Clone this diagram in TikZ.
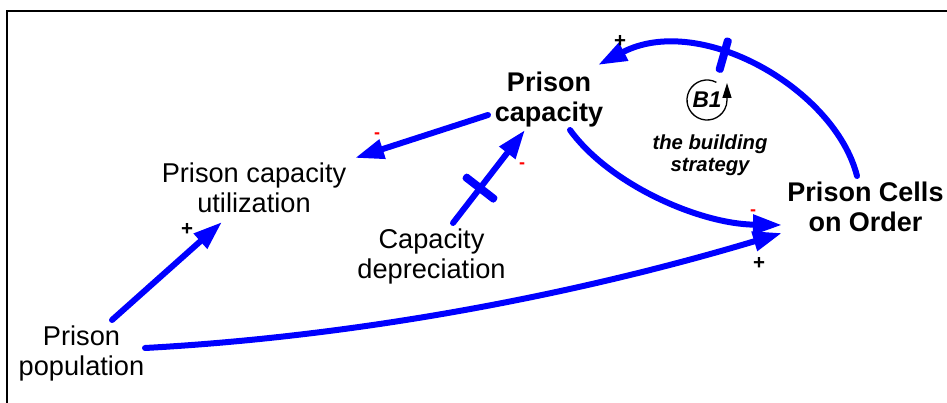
\documentclass[tikz,border=0pt]{standalone}
\usepackage{fontspec}
\setmainfont{Liberation Sans}
\usetikzlibrary{arrows.meta}
\definecolor{cldblue}{RGB}{0,0,255}
\definecolor{cldred}{RGB}{255,0,0}
\begin{document}
\begin{tikzpicture}[x=1pt,y=-1pt,
  var/.style={inner sep=0pt, align=center, font=\fontsize{27.2}{30}\selectfont},
  bvar/.style={inner sep=0pt, align=center, font=\fontsize{27}{30}\selectfont\bfseries},
  link/.style={draw=cldblue, line width=6pt, line cap=round, -{Triangle[length=29pt,width=19pt]}},
  delaymark/.style={fill=cldblue, sloped, minimum width=8pt, minimum height=#1, inner sep=0pt, rounded corners=3pt},
  pol/.style={inner sep=0pt, font=\fontsize{20.5}{20.5}\selectfont\bfseries},
  neg/.style={inner sep=0pt, text=cldred, font=\fontsize{18}{18}\selectfont\bfseries},
  loopline/.style={draw=black, line width=1.3pt, -{Triangle[length=15pt,width=9pt]}},
]
\useasboundingbox (0,0) rectangle (947,403);
\draw[line width=2pt] (7,403) -- (7,11) -- (947,11);

\node[bvar] (cap) at (549,100) {Prison\\capacity};
\node[var] (util) at (254,188) {Prison capacity\\utilization};
\node[var] (dep) at (431.5,256) {Capacity\\depreciation};
\node[bvar] (cells) at (865.5,207) {Prison Cells\\on Order};
\node[var] (pop) at (81.5,353) {Prison\\population};
\node[inner sep=0pt, align=center, font=\fontsize{20.3}{21.7}\selectfont\bfseries\itshape] (strat) at (710,155) {the building\\strategy};
\node[inner sep=0pt, font=\fontsize{22.7}{22.7}\selectfont\bfseries\itshape] (b1) at (707,100) {B1};
\draw[loopline] ([shift={(-62:20)}]b1.center) arc[start angle=-62, end angle=-360, radius=20] -- ++(0,-17);

\draw[link] ([shift={(-61,15)}]cap.center) -- ([shift={(101,-30)}]util.center);
\draw[link] ([shift={(21.5,-33)}]dep.center) -- ([shift={(-24,30)}]cap.center) node[delaymark=41pt, pos=0.375] (d1) {};
\draw[link] ([shift={(30.5,-33)}]pop.center) -- ([shift={(-32,34)}]util.center);
\draw[link] ([shift={(63.5,-5)}]pop.center) .. controls +(220,-12) and +(-200,60) .. ([shift={(-83.5,26)}]cells.center);
\draw[link] ([shift={(21,30)}]cap.center) .. controls +(40,55) and +(-82,-1) .. ([shift={(-83.5,18)}]cells.center);
\draw[link] ([shift={(-8.5,-31)}]cells.center) .. controls +(-22,-87) and +(102,-53) .. ([shift={(49,-35)}]cap.center) node[delaymark=36pt, pos=0.61] (d2) {};

\node[pol] (s1) at (620,41) {+};
\node[neg] (s2) at (377,136) {-};
\node[neg] (s3) at (522,166) {-};
\node[neg] (s4) at (753,213) {-};
\node[pol] (s5) at (759,263) {+};
\node[pol] (s6) at (187,229) {+};
\end{tikzpicture}
\end{document}
